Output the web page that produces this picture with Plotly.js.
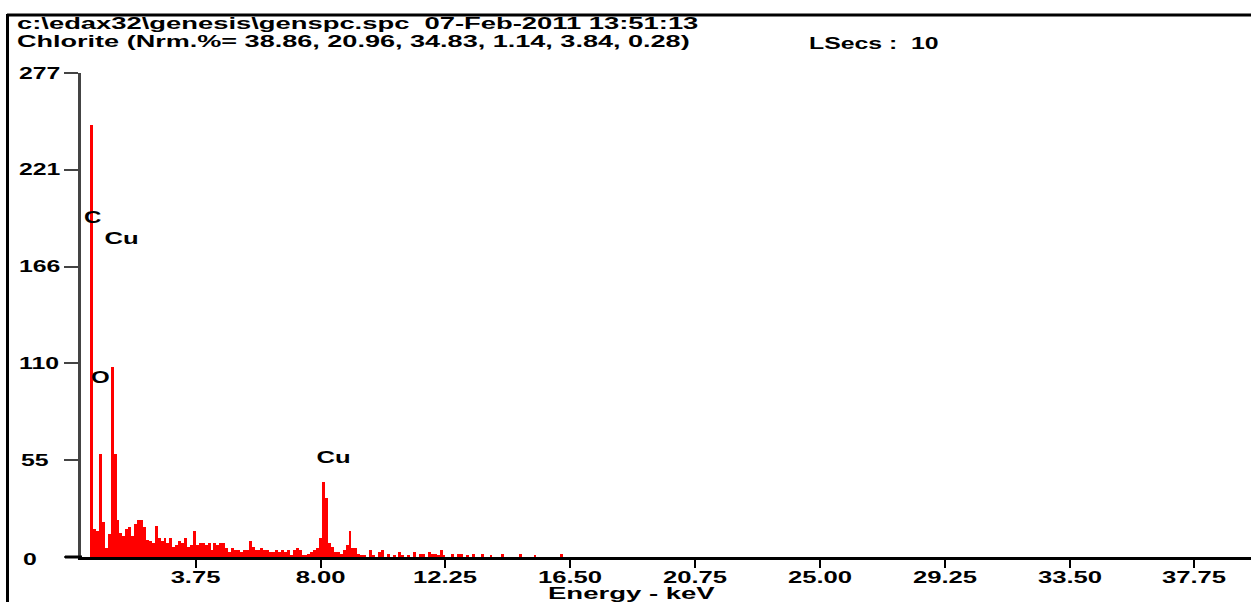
<!DOCTYPE html>
<html><head><meta charset="utf-8">
<script src="https://cdn.plot.ly/plotly-3.0.1.min.js"></script>
<style>html,body{margin:0;padding:0;background:#fff;overflow:hidden}#chart{width:1251px;height:602px}</style>
</head><body><div id="chart"></div>
<script>
// Spectrum channels (keV) and counts
const energyKeV = [
 0.2,0.3,0.4,0.5,0.6,0.7,0.8,0.9,1.0,1.1,1.2,1.3,1.4,1.5,1.6,1.7,1.8,1.9,2.0,2.1,
 2.2,2.3,2.4,2.5,2.6,2.7,2.8,2.9,3.0,3.1,3.2,3.3,3.4,3.5,3.6,3.7,3.8,3.9,4.0,4.1,
 4.2,4.3,4.4,4.5,4.6,4.7,4.8,4.9,5.0,5.1,5.2,5.3,5.4,5.5,5.6,5.7,5.8,5.9,6.0,6.1,
 6.2,6.3,6.4,6.5,6.6,6.7,6.8,6.9,7.0,7.1,7.2,7.3,7.4,7.5,7.6,7.7,7.8,7.9,8.0,8.1,
 8.2,8.3,8.4,8.5,8.6,8.7,8.8,8.9,9.0,9.1,9.2,9.3,9.4,9.5,
 9.7,9.8,10.0,10.1,10.3,10.5,10.7,10.8,11.0,11.2,11.4,11.5,11.7,11.8,11.9,12.0,12.1,12.2,
 12.5,12.7,12.8,13.0,13.2,13.5,13.8,14.2,14.8,15.3,16.2
];
const counts = [
 247,16,15,59,20,5,13,109,59,21,14,12,16,17,12,19,21,21,17,10,
 9,8,18,11,9,11,8,11,6,7,9,8,11,6,7,15,7,8,8,7,
 8,4,8,7,8,8,5,3,5,4,4,3,4,4,9,6,4,4,5,4,
 4,3,3,4,3,4,3,4,1,4,5,4,1,1,2,3,4,5,11,43,
 34,8,6,3,3,2,4,7,15,5,5,2,1,1,
 4,1,3,4,2,1,3,1,1,3,2,2,3,2,2,1,4,1,
 2,2,2,1,2,2,1,2,2,1,2
];
const xTickVals = [3.75, 8.00, 12.25, 16.50, 20.75, 25.00, 29.25, 33.50, 37.75];
const xTickText = ['3.75','8.00','12.25','16.50','20.75','25.00','29.25','33.50','37.75'];
const yTickVals = [0, 55.4, 110.8, 166.2, 221.6, 277];
const yTickText = ['0','55','110','166','221','277'];
const headerLine1 = 'c:\\edax32\\genesis\\genspc.spc\u00a0 07-Feb-2011 13:51:13';
const headerLine2 = 'Chlorite (Nrm.%= 38.86, 20.96, 34.83, 1.14, 3.84, 0.28)';
const liveSecs = 'LSecs :\u00a0 10';
const peakNames = ['C', 'Cu', 'O', 'Cu'];
const xTitle = 'Energy - keV';

const W = 1251, H = 602;
const M = {l: 81, r: 0, t: 73, b: 45};
const PW = W - M.l - M.r, PH = H - M.t - M.b;
const px = x => (x - M.l) / PW;
const py = y => (H - M.b - y) / PH;
const FONT = 'Liberation Sans, Arial, Helvetica, sans-serif';
const bold = (size) => ({family: FONT, size: size, color: '#000', weight: 'bold'});

const annotations = [];
const stretch = [];
function addText(text, x, y, xanchor, size, k, xref) {
  annotations.push({text: text, xref: xref || 'paper', yref: 'paper',
    x: xref === 'x' ? x : px(x), y: py(y),
    xanchor: xanchor, yanchor: 'middle', align: xanchor === 'left' ? 'left' : 'center',
    showarrow: false, font: bold(size), borderpad: 0});
  stretch.push(k);
}

// header
addText(headerLine1, 16, 24, 'left', 16, 1.71);
addText(headerLine2, 16, 42, 'left', 16, 1.69);
addText(liveSecs, 808, 43, 'left', 16, 1.55);
// peak labels
addText(peakNames[0], 93, 217, 'center', 16, 1.5);
addText(peakNames[1], 121, 238, 'center', 16, 1.6);
addText(peakNames[2], 100, 377, 'center', 16, 1.5);
addText(peakNames[3], 333, 457, 'center', 16, 1.6);
// axis title
addText(xTitle, 631, 593, 'center', 16, 1.72);
// x tick labels (data-anchored)
xTickVals.forEach((v, i) => addText(xTickText[i], v, 577, 'center', 16, 1.6, 'x'));
// y tick labels (left aligned as in the reference)
const yLabelLeft = [22, 20, 18, 18, 18, 18];
yTickVals.forEach((v, i) => {
  const yPix = H - M.b - v / 277 * PH + (i === 0 ? 2 : 0);
  addText(yTickText[i], yLabelLeft[i], yPix, 'left', 16, 1.55);
});

const shapes = [
  {type: 'line', xref: 'paper', yref: 'paper', x0: px(7), x1: px(W + 5), y0: py(15), y1: py(15), line: {color: '#000', width: 3}},
  {type: 'line', xref: 'paper', yref: 'paper', x0: px(7.5), x1: px(7.5), y0: py(14), y1: py(H + 5), line: {color: '#000', width: 3}},
  {type: 'line', xref: 'paper', yref: 'paper', x0: px(65), x1: px(82), y0: 0, y1: 0, line: {color: '#000', width: 3}}
];

const trace = {
  type: 'bar', x: energyKeV, y: counts, width: 0.1,
  marker: {color: '#ff0000', line: {width: 0}}, hoverinfo: 'skip'
};

const layout = {
  width: W, height: H, margin: M, paper_bgcolor: '#fff', plot_bgcolor: '#fff',
  showlegend: false, bargap: 0,
  xaxis: {range: [-0.16, 39.68], tickmode: 'array', tickvals: xTickVals, ticktext: xTickText,
    ticks: 'outside', ticklen: 8, tickwidth: 2, tickcolor: '#000', showticklabels: false,
    showline: true, linewidth: 3, linecolor: '#000', showgrid: false, zeroline: false, fixedrange: true},
  yaxis: {range: [0, 277], tickmode: 'array', tickvals: yTickVals, ticktext: yTickText,
    ticks: 'outside', ticklen: 14, tickwidth: 2, tickcolor: '#444', showticklabels: false,
    showline: true, linewidth: 3, linecolor: '#444', showgrid: false, zeroline: false, fixedrange: true},
  annotations: annotations, shapes: shapes
};

// The reference text is horizontally stretched; widen glyphs while keeping the anchor point.
function stretchText(gd) {
  gd.querySelectorAll('.annotation').forEach(g => {
    const idx = parseInt(g.getAttribute('data-index'), 10);
    const k = stretch[idx] || 1;
    const t = g.querySelector('text.annotation-text');
    if (!t) return;
    const anchor = annotations[idx].xanchor;
    const b0 = t.getBBox();
    const w = t.getComputedTextLength();
    if (!(w > 0)) return;
    t.setAttribute('textLength', (w * k).toFixed(2));
    t.setAttribute('lengthAdjust', 'spacingAndGlyphs');
    const b1 = t.getBBox();
    let dx;
    if (anchor === 'center') dx = (b0.x + b0.width / 2) - (b1.x + b1.width / 2);
    else if (anchor === 'right') dx = (b0.x + b0.width) - (b1.x + b1.width);
    else dx = b0.x - b1.x;
    if (Math.abs(dx) > 0.01) {
      const x = parseFloat(t.getAttribute('x') || '0');
      t.setAttribute('x', (x + dx).toFixed(2));
      t.querySelectorAll('tspan[x]').forEach(s => s.setAttribute('x', (parseFloat(s.getAttribute('x')) + dx).toFixed(2)));
    }
  });
}

Plotly.newPlot('chart', [trace], layout, {displayModeBar: false, staticPlot: true}).then(stretchText);
</script></body></html>
